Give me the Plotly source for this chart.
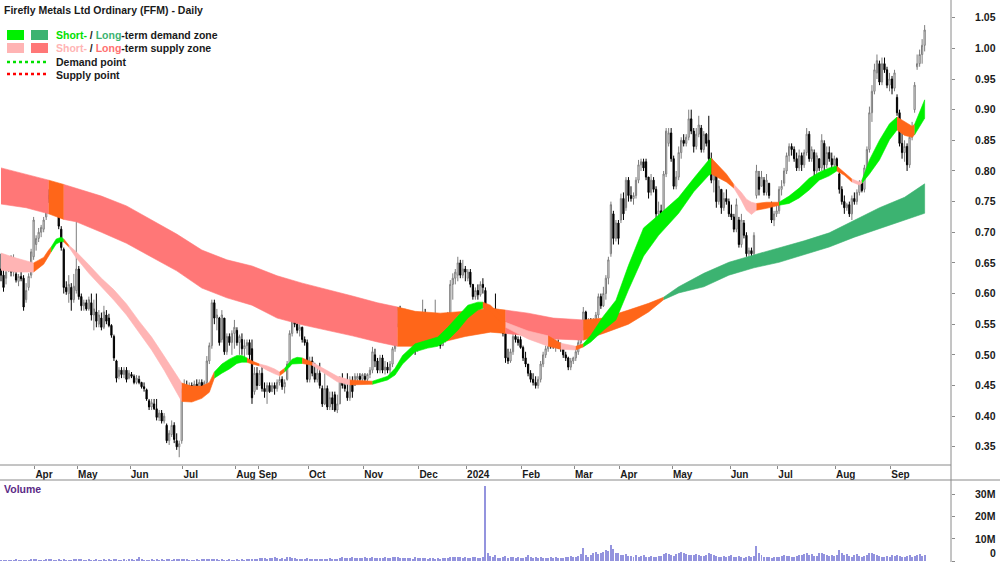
import plotly.graph_objects as go

# ---------------- price data (daily bars, index = trading day) ----------------
opens = [
0.640,0.630,0.625,0.640,0.650,0.635,0.632,0.620,0.628,0.625,0.590,0.610,0.630,0.660,0.680,0.690,0.700,0.705,0.725,0.760,
0.755,0.772,0.750,0.735,0.705,0.672,0.610,0.600,0.610,0.590,0.605,0.640,0.595,0.580,0.585,0.575,0.585,0.565,0.570,0.550,
0.560,0.545,0.565,0.560,0.548,0.530,0.490,0.465,0.475,0.468,0.475,0.462,0.468,0.465,0.455,0.460,0.455,0.448,0.443,0.425,
0.415,0.420,0.412,0.398,0.405,0.392,0.385,0.360,0.370,0.385,0.360,0.350,0.360,0.440,0.450,0.435,0.450,0.440,0.452,0.440,
0.455,0.448,0.455,0.490,0.515,0.585,0.560,0.560,0.525,0.560,0.505,0.530,0.520,0.535,0.540,0.520,0.525,0.510,0.515,0.520,
0.510,0.440,0.470,0.450,0.470,0.445,0.440,0.450,0.440,0.450,0.445,0.455,0.460,0.448,0.460,0.485,0.535,0.575,0.550,0.540,
0.545,0.525,0.520,0.460,0.490,0.470,0.460,0.470,0.445,0.420,0.445,0.415,0.430,0.435,0.410,0.420,0.455,0.450,0.440,0.430,
0.455,0.450,0.460,0.465,0.460,0.465,0.460,0.468,0.475,0.500,0.490,0.475,0.495,0.475,0.480,0.475,0.485,0.510,0.550,0.575,
0.550,0.570,0.555,0.560,0.550,0.540,0.510,0.525,0.535,0.565,0.550,0.540,0.550,0.545,0.550,0.538,0.515,0.530,0.535,0.565,
0.615,0.625,0.630,0.650,0.630,0.640,0.625,0.635,0.615,0.595,0.605,0.598,0.615,0.605,0.565,0.565,0.567,0.575,0.550,0.565,
0.550,0.535,0.495,0.490,0.505,0.530,0.525,0.525,0.512,0.495,0.485,0.470,0.460,0.455,0.450,0.460,0.485,0.500,0.510,0.530,
0.525,0.515,0.520,0.515,0.510,0.500,0.495,0.480,0.490,0.495,0.505,0.520,0.545,0.570,0.545,0.555,0.545,0.555,0.565,0.595,
0.580,0.600,0.625,0.665,0.730,0.690,0.715,0.720,0.755,0.740,0.785,0.760,0.755,0.760,0.785,0.810,0.815,0.815,0.790,0.765,
0.785,0.770,0.730,0.735,0.720,0.795,0.845,0.862,0.820,0.775,0.790,0.830,0.850,0.845,0.855,0.885,0.865,0.840,0.860,0.870,
0.835,0.860,0.850,0.820,0.785,0.795,0.750,0.770,0.740,0.755,0.750,0.730,0.725,0.705,0.720,0.680,0.715,0.695,0.665,0.670,
0.665,0.760,0.790,0.775,0.785,0.765,0.780,0.745,0.720,0.730,0.735,0.770,0.780,0.800,0.825,0.840,0.835,0.820,0.805,0.825,
0.810,0.830,0.860,0.820,0.830,0.800,0.820,0.805,0.845,0.810,0.830,0.820,0.810,0.820,0.795,0.770,0.750,0.740,0.745,0.730,
0.755,0.750,0.765,0.780,0.770,0.805,0.835,0.895,0.930,0.960,0.975,0.945,0.975,0.965,0.940,0.950,0.935,0.920,0.895,0.845,
0.830,0.840,0.810,0.855,0.900,0.970,0.975,0.990,1.005]

highs = [
0.665,0.643,0.641,0.660,0.662,0.664,0.640,0.632,0.636,0.630,0.617,0.633,0.673,0.725,0.695,0.707,0.712,0.725,0.768,0.770,
0.782,0.776,0.760,0.740,0.710,0.675,0.620,0.630,0.617,0.632,0.720,0.645,0.600,0.590,0.590,0.595,0.600,0.590,0.600,0.573,
0.569,0.580,0.573,0.567,0.550,0.533,0.492,0.480,0.480,0.480,0.480,0.475,0.472,0.468,0.467,0.466,0.456,0.455,0.445,0.428,
0.428,0.428,0.428,0.410,0.410,0.405,0.388,0.377,0.393,0.390,0.372,0.360,0.445,0.460,0.458,0.455,0.455,0.458,0.460,0.460,
0.460,0.458,0.498,0.520,0.590,0.590,0.575,0.562,0.573,0.560,0.535,0.535,0.540,0.557,0.545,0.533,0.535,0.525,0.525,0.525,
0.525,0.480,0.480,0.475,0.480,0.455,0.455,0.455,0.455,0.455,0.460,0.465,0.465,0.460,0.490,0.540,0.586,0.586,0.560,0.550,
0.546,0.530,0.525,0.497,0.497,0.487,0.480,0.487,0.450,0.470,0.450,0.440,0.440,0.440,0.435,0.465,0.470,0.460,0.470,0.465,
0.465,0.470,0.470,0.470,0.470,0.470,0.470,0.480,0.513,0.510,0.495,0.500,0.500,0.490,0.488,0.490,0.513,0.555,0.578,0.580,
0.575,0.575,0.565,0.565,0.560,0.545,0.535,0.540,0.590,0.575,0.560,0.555,0.560,0.590,0.555,0.540,0.535,0.540,0.570,0.622,
0.633,0.640,0.660,0.655,0.655,0.645,0.640,0.640,0.615,0.610,0.615,0.620,0.625,0.610,0.575,0.572,0.575,0.600,0.575,0.570,
0.555,0.535,0.510,0.510,0.535,0.535,0.530,0.530,0.515,0.505,0.485,0.475,0.470,0.465,0.465,0.490,0.505,0.515,0.535,0.540,
0.530,0.525,0.525,0.520,0.515,0.505,0.497,0.495,0.497,0.510,0.525,0.550,0.578,0.572,0.560,0.560,0.560,0.570,0.600,0.600,
0.611,0.630,0.660,0.750,0.735,0.720,0.720,0.763,0.765,0.790,0.790,0.775,0.765,0.790,0.818,0.820,0.820,0.820,0.790,0.795,
0.790,0.775,0.750,0.745,0.800,0.870,0.870,0.870,0.825,0.800,0.840,0.855,0.860,0.860,0.900,0.900,0.870,0.870,0.890,0.875,
0.865,0.862,0.890,0.830,0.800,0.800,0.785,0.770,0.765,0.770,0.755,0.745,0.730,0.755,0.725,0.730,0.720,0.700,0.675,0.675,
0.700,0.810,0.800,0.800,0.790,0.795,0.780,0.750,0.735,0.745,0.775,0.785,0.805,0.830,0.845,0.845,0.840,0.830,0.835,0.830,
0.835,0.870,0.865,0.840,0.835,0.830,0.820,0.860,0.850,0.840,0.840,0.830,0.825,0.822,0.800,0.775,0.760,0.748,0.750,0.760,
0.765,0.770,0.785,0.785,0.810,0.840,0.905,0.940,0.975,0.990,0.980,0.985,0.985,0.970,0.960,0.955,0.965,0.925,0.900,0.870,
0.850,0.845,0.860,0.880,0.945,0.990,0.998,1.015,1.038]

lows = [
0.620,0.603,0.615,0.635,0.628,0.628,0.618,0.612,0.620,0.572,0.585,0.605,0.625,0.655,0.670,0.684,0.692,0.700,0.720,0.748,
0.750,0.750,0.730,0.705,0.670,0.600,0.598,0.585,0.572,0.585,0.600,0.590,0.572,0.572,0.572,0.572,0.556,0.540,0.545,0.545,
0.540,0.542,0.550,0.545,0.528,0.490,0.455,0.460,0.462,0.462,0.455,0.460,0.462,0.452,0.452,0.452,0.445,0.440,0.425,0.410,
0.410,0.410,0.393,0.392,0.388,0.388,0.356,0.353,0.366,0.356,0.345,0.333,0.355,0.425,0.430,0.430,0.430,0.435,0.435,0.438,
0.440,0.440,0.450,0.485,0.510,0.550,0.540,0.515,0.520,0.500,0.500,0.515,0.500,0.510,0.515,0.500,0.500,0.495,0.500,0.490,
0.420,0.435,0.443,0.450,0.440,0.430,0.420,0.438,0.440,0.435,0.440,0.450,0.443,0.437,0.458,0.480,0.530,0.545,0.535,0.530,
0.520,0.515,0.455,0.455,0.465,0.455,0.455,0.445,0.415,0.418,0.410,0.410,0.410,0.407,0.405,0.420,0.445,0.440,0.425,0.425,
0.430,0.450,0.455,0.455,0.455,0.455,0.455,0.462,0.470,0.480,0.470,0.470,0.470,0.468,0.470,0.468,0.480,0.505,0.545,0.545,
0.545,0.550,0.548,0.545,0.540,0.500,0.505,0.515,0.525,0.545,0.535,0.540,0.540,0.530,0.535,0.510,0.515,0.520,0.530,0.560,
0.590,0.615,0.620,0.625,0.625,0.620,0.620,0.610,0.590,0.590,0.590,0.595,0.600,0.560,0.555,0.560,0.555,0.545,0.545,0.545,
0.530,0.487,0.485,0.487,0.500,0.520,0.515,0.510,0.490,0.480,0.465,0.455,0.450,0.445,0.445,0.455,0.480,0.495,0.505,0.510,
0.510,0.505,0.510,0.505,0.495,0.490,0.475,0.475,0.485,0.490,0.500,0.515,0.540,0.540,0.535,0.540,0.530,0.550,0.560,0.575,
0.578,0.590,0.615,0.660,0.680,0.685,0.680,0.715,0.720,0.735,0.750,0.750,0.745,0.755,0.780,0.800,0.800,0.785,0.755,0.760,
0.765,0.720,0.720,0.710,0.715,0.790,0.840,0.815,0.770,0.770,0.785,0.820,0.840,0.840,0.850,0.860,0.830,0.835,0.855,0.830,
0.830,0.840,0.815,0.780,0.765,0.740,0.745,0.730,0.735,0.745,0.725,0.720,0.700,0.700,0.675,0.675,0.690,0.660,0.660,0.655,
0.655,0.755,0.760,0.775,0.760,0.760,0.755,0.715,0.710,0.725,0.730,0.760,0.775,0.795,0.815,0.825,0.815,0.800,0.800,0.800,
0.805,0.825,0.815,0.815,0.790,0.795,0.800,0.800,0.800,0.805,0.815,0.800,0.805,0.800,0.763,0.745,0.730,0.735,0.725,0.720,
0.745,0.745,0.760,0.765,0.765,0.800,0.830,0.880,0.925,0.950,0.940,0.940,0.960,0.935,0.930,0.925,0.930,0.890,0.840,0.820,
0.815,0.800,0.805,0.850,0.895,0.965,0.970,0.975,0.995]

closes = [
0.630,0.610,0.635,0.652,0.635,0.645,0.622,0.628,0.624,0.578,0.605,0.628,0.668,0.720,0.690,0.700,0.708,0.720,0.762,0.755,
0.775,0.755,0.735,0.710,0.675,0.610,0.603,0.615,0.590,0.612,0.640,0.595,0.580,0.585,0.575,0.590,0.565,0.575,0.555,0.565,
0.545,0.570,0.555,0.548,0.532,0.495,0.462,0.475,0.468,0.475,0.460,0.470,0.465,0.455,0.462,0.455,0.448,0.445,0.428,0.415,
0.422,0.412,0.398,0.405,0.392,0.400,0.360,0.372,0.385,0.362,0.350,0.355,0.440,0.450,0.435,0.450,0.440,0.452,0.440,0.455,
0.448,0.455,0.490,0.515,0.585,0.560,0.565,0.520,0.565,0.505,0.530,0.520,0.535,0.545,0.520,0.530,0.510,0.515,0.520,0.500,
0.430,0.470,0.450,0.470,0.445,0.440,0.450,0.440,0.450,0.445,0.455,0.460,0.448,0.455,0.485,0.535,0.575,0.550,0.540,0.545,
0.525,0.520,0.460,0.490,0.470,0.460,0.470,0.450,0.420,0.445,0.415,0.430,0.420,0.410,0.420,0.460,0.450,0.445,0.430,0.455,
0.440,0.465,0.465,0.460,0.468,0.460,0.468,0.475,0.505,0.490,0.475,0.495,0.475,0.480,0.475,0.485,0.510,0.550,0.575,0.550,
0.570,0.555,0.560,0.548,0.545,0.510,0.525,0.535,0.565,0.550,0.540,0.550,0.545,0.550,0.538,0.515,0.530,0.535,0.565,0.615,
0.625,0.635,0.650,0.630,0.640,0.635,0.635,0.615,0.595,0.605,0.598,0.615,0.610,0.565,0.565,0.567,0.560,0.550,0.565,0.550,
0.535,0.495,0.490,0.505,0.530,0.525,0.520,0.512,0.495,0.485,0.470,0.460,0.455,0.450,0.460,0.485,0.500,0.510,0.530,0.520,
0.515,0.520,0.515,0.510,0.500,0.495,0.480,0.490,0.495,0.505,0.520,0.545,0.570,0.545,0.555,0.545,0.555,0.565,0.595,0.580,
0.600,0.625,0.655,0.745,0.690,0.715,0.690,0.755,0.730,0.785,0.760,0.755,0.760,0.785,0.810,0.815,0.805,0.790,0.765,0.785,
0.770,0.730,0.735,0.715,0.795,0.865,0.862,0.820,0.775,0.790,0.830,0.850,0.845,0.855,0.885,0.865,0.840,0.860,0.875,0.835,
0.860,0.845,0.820,0.785,0.795,0.750,0.775,0.740,0.755,0.750,0.730,0.725,0.705,0.745,0.680,0.720,0.695,0.665,0.670,0.665,
0.695,0.800,0.770,0.790,0.765,0.785,0.760,0.720,0.730,0.735,0.770,0.775,0.800,0.825,0.840,0.835,0.820,0.805,0.825,0.810,
0.830,0.860,0.820,0.835,0.800,0.825,0.805,0.850,0.810,0.830,0.820,0.810,0.820,0.805,0.770,0.750,0.740,0.745,0.730,0.755,
0.750,0.765,0.780,0.768,0.805,0.835,0.895,0.930,0.965,0.980,0.945,0.975,0.965,0.940,0.950,0.935,0.960,0.895,0.845,0.830,
0.840,0.810,0.855,0.870,0.940,0.975,0.990,1.005,1.030]

# volume in millions of shares
volume = [
0.3,0.2,0.4,0.3,0.2,0.3,0.5,0.2,0.3,0.4,0.2,0.3,0.6,0.9,0.5,0.4,0.3,0.4,0.7,0.5,
0.6,0.4,0.3,0.5,0.4,0.6,0.3,0.4,0.3,0.5,0.8,1.1,0.6,0.4,0.3,0.5,0.4,0.3,0.6,0.4,
0.3,0.5,0.4,0.8,0.4,0.6,0.7,0.4,0.3,0.5,0.4,0.6,0.5,0.4,0.8,1.9,0.5,0.4,0.3,0.4,
0.5,0.3,0.6,0.4,0.5,0.4,0.6,0.5,0.4,0.5,0.7,0.6,1.1,0.7,0.5,0.4,0.4,0.3,0.5,0.4,
0.6,0.5,0.9,0.7,1.0,0.6,0.5,0.4,0.5,0.4,0.3,0.5,0.4,0.3,0.5,0.4,0.6,0.3,0.5,0.7,
1.0,0.6,0.8,1.2,1.5,1.3,1.1,1.4,1.2,1.6,1.3,1.0,1.2,1.1,1.7,1.9,1.5,1.2,1.0,0.8,
0.9,0.7,1.2,1.0,0.8,1.1,0.9,0.7,0.8,1.0,0.9,1.2,0.8,0.7,1.0,1.4,1.6,1.2,1.5,1.3,
1.7,1.4,1.5,1.2,1.3,1.6,1.4,1.2,1.8,1.5,1.3,1.4,1.2,1.6,1.3,1.5,1.7,1.9,1.6,1.4,
1.3,1.5,1.2,1.4,1.1,1.6,1.3,1.2,1.5,1.4,1.1,1.3,1.2,1.0,1.2,1.1,1.3,1.4,1.5,1.6,
1.8,1.6,1.9,1.7,1.5,1.6,1.3,1.4,1.8,1.6,1.5,1.4,2.0,33.5,3.5,2.2,1.8,2.6,1.5,1.2,
1.7,2.2,1.4,2.0,1.6,1.2,1.8,1.5,1.3,1.9,2.5,1.6,1.4,1.7,1.3,2.0,1.5,1.2,1.4,1.6,
1.3,1.8,1.5,1.2,1.4,1.7,1.9,2.4,1.6,1.8,2.1,3.0,6.0,2.5,1.8,2.8,3.4,4.0,3.2,3.6,
4.2,5.0,4.6,7.0,5.2,3.8,3.4,2.8,2.6,3.0,2.4,2.2,2.0,2.6,1.8,2.2,2.5,2.0,1.7,2.3,
1.6,1.9,2.2,2.4,3.0,3.6,3.2,2.8,2.4,3.0,3.5,4.2,3.8,3.0,2.6,2.9,2.5,3.3,2.7,2.4,
2.2,2.8,3.4,3.0,2.6,2.4,2.0,1.8,2.2,1.6,2.4,2.6,2.0,1.7,2.1,1.8,1.5,1.9,2.2,2.0,
2.4,6.6,3.4,2.6,2.0,1.8,1.6,1.4,1.8,2.0,1.7,2.3,2.6,2.1,2.4,1.9,1.7,2.2,2.6,2.8,
3.2,3.6,2.8,3.0,2.4,2.2,3.4,3.8,3.0,2.6,2.4,2.8,2.2,2.5,5.0,3.6,2.8,3.2,2.4,2.0,
2.6,3.0,2.4,1.8,2.2,2.8,3.4,3.8,3.2,2.6,2.4,2.0,1.8,2.2,2.0,2.6,2.4,2.8,2.2,2.0,
1.8,2.4,2.6,2.0,2.2,2.8,3.0,2.4,2.6]

# ---------------- zones (read at selected bars) ----------------
# long-term zone: bar index, upper edge, lower edge, state (S supply / D demand / O price inside)
lt_x   = [0, 10, 19, 25, 30, 40, 50, 60, 70, 80, 90, 100, 110, 120, 130, 140, 150, 158, 165, 175, 185, 195, 201, 210, 220, 232, 240, 250, 258, 264, 270, 280, 290, 300, 310, 320, 330, 340, 350, 360, 368]
lt_top = [0.805, 0.795, 0.785, 0.778, 0.772, 0.759, 0.743, 0.720, 0.697, 0.671, 0.655, 0.645, 0.629, 0.617, 0.607, 0.596, 0.585, 0.578, 0.571, 0.568, 0.571, 0.576, 0.573, 0.568, 0.560, 0.557, 0.560, 0.573, 0.584, 0.594, 0.611, 0.633, 0.651, 0.663, 0.674, 0.686, 0.699, 0.720, 0.740, 0.757, 0.779]
lt_bot = [0.746, 0.740, 0.730, 0.721, 0.717, 0.700, 0.682, 0.660, 0.637, 0.609, 0.593, 0.581, 0.560, 0.549, 0.540, 0.531, 0.521, 0.514, 0.514, 0.520, 0.530, 0.537, 0.535, 0.531, 0.526, 0.524, 0.535, 0.550, 0.570, 0.590, 0.601, 0.611, 0.630, 0.642, 0.651, 0.663, 0.676, 0.692, 0.707, 0.720, 0.731]
lt_state = ["S", "S", "O", "S", "S", "S", "S", "S", "S", "S", "S", "S", "S", "S", "S", "S", "S", "O", "O", "O", "O", "O", "S", "S", "S", "O", "O", "O", "O", "D", "D", "D", "D", "D", "D", "D", "D", "D", "D", "D", "D"]

# short-term zone
st_x   = [0, 6, 13, 17, 19, 20, 22, 24, 25, 27, 30, 35, 40, 45, 50, 55, 60, 65, 70, 72, 76, 80, 83, 85, 88, 91, 94, 96, 98, 100, 103, 106, 109, 111, 113, 116, 118, 120, 124, 128, 134, 139, 144, 148, 150, 154, 157, 160, 165, 170, 174, 178, 182, 186, 190, 192, 195, 199, 201, 210, 218, 223, 226, 229, 232, 235, 240, 245, 250, 256, 262, 270, 276, 282, 283, 286, 289, 292, 295, 297, 299, 301, 305, 310, 314, 318, 322, 326, 330, 333, 336, 339, 342, 343, 346, 350, 354, 357, 360, 363, 364, 366, 368]
st_top = [0.666, 0.658, 0.650, 0.659, 0.671, 0.676, 0.689, 0.692, 0.689, 0.679, 0.668, 0.647, 0.625, 0.606, 0.583, 0.555, 0.529, 0.498, 0.465, 0.454, 0.449, 0.449, 0.455, 0.472, 0.485, 0.493, 0.499, 0.499, 0.495, 0.490, 0.485, 0.482, 0.477, 0.472, 0.478, 0.493, 0.496, 0.495, 0.488, 0.479, 0.465, 0.459, 0.458, 0.457, 0.460, 0.465, 0.478, 0.499, 0.518, 0.524, 0.529, 0.545, 0.563, 0.581, 0.586, 0.586, 0.581, 0.565, 0.553, 0.539, 0.531, 0.519, 0.516, 0.514, 0.518, 0.532, 0.563, 0.589, 0.646, 0.707, 0.728, 0.757, 0.788, 0.818, 0.821, 0.808, 0.795, 0.778, 0.765, 0.754, 0.749, 0.747, 0.749, 0.749, 0.759, 0.772, 0.788, 0.798, 0.805, 0.808, 0.798, 0.787, 0.782, 0.785, 0.818, 0.850, 0.877, 0.888, 0.880, 0.873, 0.876, 0.896, 0.916]
st_bot = [0.638, 0.635, 0.635, 0.648, 0.661, 0.668, 0.681, 0.685, 0.684, 0.676, 0.658, 0.633, 0.611, 0.589, 0.565, 0.537, 0.508, 0.475, 0.439, 0.424, 0.423, 0.429, 0.439, 0.462, 0.470, 0.477, 0.486, 0.488, 0.488, 0.485, 0.482, 0.475, 0.469, 0.466, 0.472, 0.485, 0.486, 0.486, 0.483, 0.472, 0.456, 0.451, 0.452, 0.452, 0.454, 0.459, 0.467, 0.485, 0.505, 0.511, 0.514, 0.524, 0.540, 0.560, 0.573, 0.576, 0.571, 0.553, 0.545, 0.526, 0.514, 0.509, 0.508, 0.508, 0.513, 0.521, 0.540, 0.557, 0.606, 0.661, 0.695, 0.731, 0.766, 0.793, 0.795, 0.788, 0.782, 0.772, 0.752, 0.736, 0.729, 0.736, 0.739, 0.744, 0.747, 0.756, 0.769, 0.785, 0.792, 0.800, 0.793, 0.782, 0.777, 0.780, 0.795, 0.818, 0.851, 0.867, 0.858, 0.855, 0.859, 0.873, 0.886]
st_state = ["S", "S", "O", "O", "O", "D", "D", "D", "O", "S", "S", "S", "S", "S", "S", "S", "S", "S", "S", "O", "O", "O", "O", "D", "D", "D", "D", "D", "O", "O", "S", "S", "S", "O", "D", "D", "D", "O", "S", "S", "S", "O", "O", "D", "D", "D", "D", "D", "D", "D", "D", "D", "D", "D", "D", "O", "O", "O", "S", "S", "O", "S", "S", "O", "D", "D", "D", "D", "D", "D", "D", "D", "D", "D", "O", "O", "O", "S", "S", "S", "S", "O", "O", "D", "D", "D", "D", "D", "D", "O", "O", "S", "S", "D", "D", "D", "D", "O", "O", "O", "D", "D", "D"]

# ---------------- axes labels ----------------
month_pos = [13.5, 30.5, 51.5, 72.5, 93.5, 102.5, 122.5, 144.5, 166.5, 185.5, 207.5, 228.5, 246.5, 267.5, 290.5, 309.5, 332.5, 354.5]
month_lab = ["Apr", "May", "Jun", "Jul", "Aug", "Sep", "Oct", "Nov", "Dec", "2024", "Feb", "Mar", "Apr", "May", "Jun", "Jul", "Aug", "Sep"]
price_ticks = [0.35, 0.40, 0.45, 0.50, 0.55, 0.60, 0.65, 0.70, 0.75, 0.80, 0.85, 0.90, 0.95, 1.00, 1.05]
vol_ticks = [0, 10, 20, 30]
vol_tick_text = ["0", "10M", "20M", "30M"]

# ---------------- styling ----------------
W, H = 1000, 562
PLOT_W = 951
FONT = "Liberation Sans"
ORANGE = "#FF6619"
LT_COLORS = {"S": "#FF7777", "D": "#3CB371", "O": ORANGE}
ST_COLORS = {"S": "#FFB4B4", "D": "#00F000", "O": ORANGE}
AXIS_GRAY = "#8a8a8a"


def px_x(x):
    return x / PLOT_W


def px_y(y):
    return 1 - y / H


fig = go.Figure()


def add_zone(xs, top, bot, states, colors):
    n = len(xs)
    start = 0
    for k in range(1, n):
        if k == n - 1 or states[k] != states[start]:
            seg = list(range(start, k + 1))
            bx = [xs[j] for j in seg] + [xs[j] for j in reversed(seg)]
            by = [top[j] for j in seg] + [bot[j] for j in reversed(seg)]
            c = colors[states[start]]
            fig.add_trace(go.Scatter(x=bx, y=by, mode="lines", fill="toself",
                                     fillcolor=c, line=dict(color=c, width=0.6),
                                     hoverinfo="skip", showlegend=False,
                                     xaxis="x", yaxis="y"))
            start = k


add_zone(lt_x, lt_top, lt_bot, lt_state, LT_COLORS)
add_zone(st_x, st_top, st_bot, st_state, ST_COLORS)

idx = list(range(len(closes)))
fig.add_trace(go.Candlestick(
    x=idx, open=opens, high=highs, low=lows, close=closes,
    increasing=dict(line=dict(color="#7d7d7d", width=1), fillcolor="white"),
    decreasing=dict(line=dict(color="black", width=1), fillcolor="black"),
    whiskerwidth=0, showlegend=False, hoverinfo="skip", xaxis="x", yaxis="y"))

fig.add_trace(go.Bar(x=list(range(len(volume))), y=volume, width=0.4,
                     marker=dict(color="#9494DE", line=dict(width=0)),
                     showlegend=False, hoverinfo="skip", xaxis="x2", yaxis="y2"))

xr = [-0.4, 378.5]
tickfont = dict(family=FONT, size=10.5, color="#1a1a1a", weight="bold")

fig.update_layout(
    width=W, height=H,
    margin=dict(l=0, r=W - PLOT_W, t=0, b=0),
    paper_bgcolor="white", plot_bgcolor="white",
    showlegend=False, bargap=0,
    xaxis=dict(domain=[0, 1], range=xr, anchor="y", tickvals=month_pos, ticktext=month_lab,
               ticks="outside", ticklen=3, tickcolor=AXIS_GRAY, tickangle=0,
               ticklabelposition="outside right", showgrid=False, zeroline=False,
               showline=False, rangeslider=dict(visible=False),
               tickfont=dict(family=FONT, size=10, color="#1a1a1a", weight="bold")),
    yaxis=dict(domain=[(H - 465) / H, 1], range=[0.3203, 1.0789], anchor="x", side="right",
               tickvals=price_ticks, ticktext=["%.2f" % v for v in price_ticks],
               ticks="outside", ticklen=3, tickcolor=AXIS_GRAY, showgrid=False,
               zeroline=False, showline=False, tickfont=tickfont, ticklabelstandoff=18),
    xaxis2=dict(domain=[0, 1], range=xr, anchor="y2", showticklabels=False, ticks="",
                showgrid=False, zeroline=False, showline=False),
    yaxis2=dict(domain=[0, (H - 480) / H], range=[-0.45, 36.32], anchor="x2", side="right",
                tickvals=vol_ticks, showticklabels=False, ticks="outside", ticklen=3,
                tickcolor=AXIS_GRAY, showgrid=False, zeroline=False, showline=False),
)

shapes = [
    # frame lines
    dict(type="line", xref="paper", yref="paper", x0=1, x1=1, y0=0, y1=1,
         line=dict(color=AXIS_GRAY, width=1)),
    dict(type="line", xref="paper", yref="paper", x0=0, x1=1, y0=px_y(465), y1=px_y(465),
         line=dict(color=AXIS_GRAY, width=1)),
    dict(type="line", xref="paper", yref="paper", x0=0, x1=px_x(1000), y0=px_y(480), y1=px_y(480),
         line=dict(color=AXIS_GRAY, width=1)),
    # legend swatches
    dict(type="rect", xref="paper", yref="paper", x0=px_x(7), x1=px_x(24), y0=px_y(40), y1=px_y(30),
         fillcolor="#00F000", line=dict(width=0)),
    dict(type="rect", xref="paper", yref="paper", x0=px_x(31), x1=px_x(48), y0=px_y(40), y1=px_y(30),
         fillcolor="#3CB371", line=dict(width=0)),
    dict(type="rect", xref="paper", yref="paper", x0=px_x(7), x1=px_x(24), y0=px_y(53), y1=px_y(43),
         fillcolor="#FFB4B4", line=dict(width=0)),
    dict(type="rect", xref="paper", yref="paper", x0=px_x(31), x1=px_x(48), y0=px_y(53), y1=px_y(43),
         fillcolor="#FF7777", line=dict(width=0)),
    dict(type="line", xref="paper", yref="paper", x0=px_x(7), x1=px_x(47), y0=px_y(62), y1=px_y(62),
         line=dict(color="#00E000", width=2.5, dash="dot")),
    dict(type="line", xref="paper", yref="paper", x0=px_x(7), x1=px_x(47), y0=px_y(74), y1=px_y(74),
         line=dict(color="#FF0000", width=2.5, dash="dot")),
]
fig.update_layout(shapes=shapes)

txt_font = dict(family=FONT, size=10.5, color="#1a1a1a", weight="bold")
annotations = [
    dict(text="Firefly Metals Ltd Ordinary (FFM) - Daily", x=px_x(2), y=px_y(10),
         xref="paper", yref="paper", xanchor="left", yanchor="middle", showarrow=False, font=txt_font),
    dict(text="<span style='color:#00E000'>Short-</span> / <span style='color:#3CB371'>Long</span>-term demand zone",
         x=px_x(54), y=px_y(35), xref="paper", yref="paper", xanchor="left", yanchor="middle",
         showarrow=False, font=txt_font),
    dict(text="<span style='color:#FFB4B4'>Short-</span> / <span style='color:#FF7070'>Long</span>-term supply zone",
         x=px_x(54), y=px_y(48), xref="paper", yref="paper", xanchor="left", yanchor="middle",
         showarrow=False, font=txt_font),
    dict(text="Demand point", x=px_x(54), y=px_y(62), xref="paper", yref="paper", xanchor="left",
         yanchor="middle", showarrow=False, font=txt_font),
    dict(text="Supply point", x=px_x(54), y=px_y(75), xref="paper", yref="paper", xanchor="left",
         yanchor="middle", showarrow=False, font=txt_font),
    dict(text="Volume", x=px_x(2), y=px_y(489), xref="paper", yref="paper", xanchor="left",
         yanchor="middle", showarrow=False, font=dict(family=FONT, size=10.5, color="#5B2A86", weight="bold")),
]
for v, t in zip(vol_ticks, vol_tick_text):
    annotations.append(dict(text=t, x=px_x(998), y=v, xref="paper", yref="y2", xanchor="right",
                            yanchor="bottom" if v == 0 else "middle", showarrow=False, font=tickfont))
fig.update_layout(annotations=annotations)

fig.write_html("out.html")
